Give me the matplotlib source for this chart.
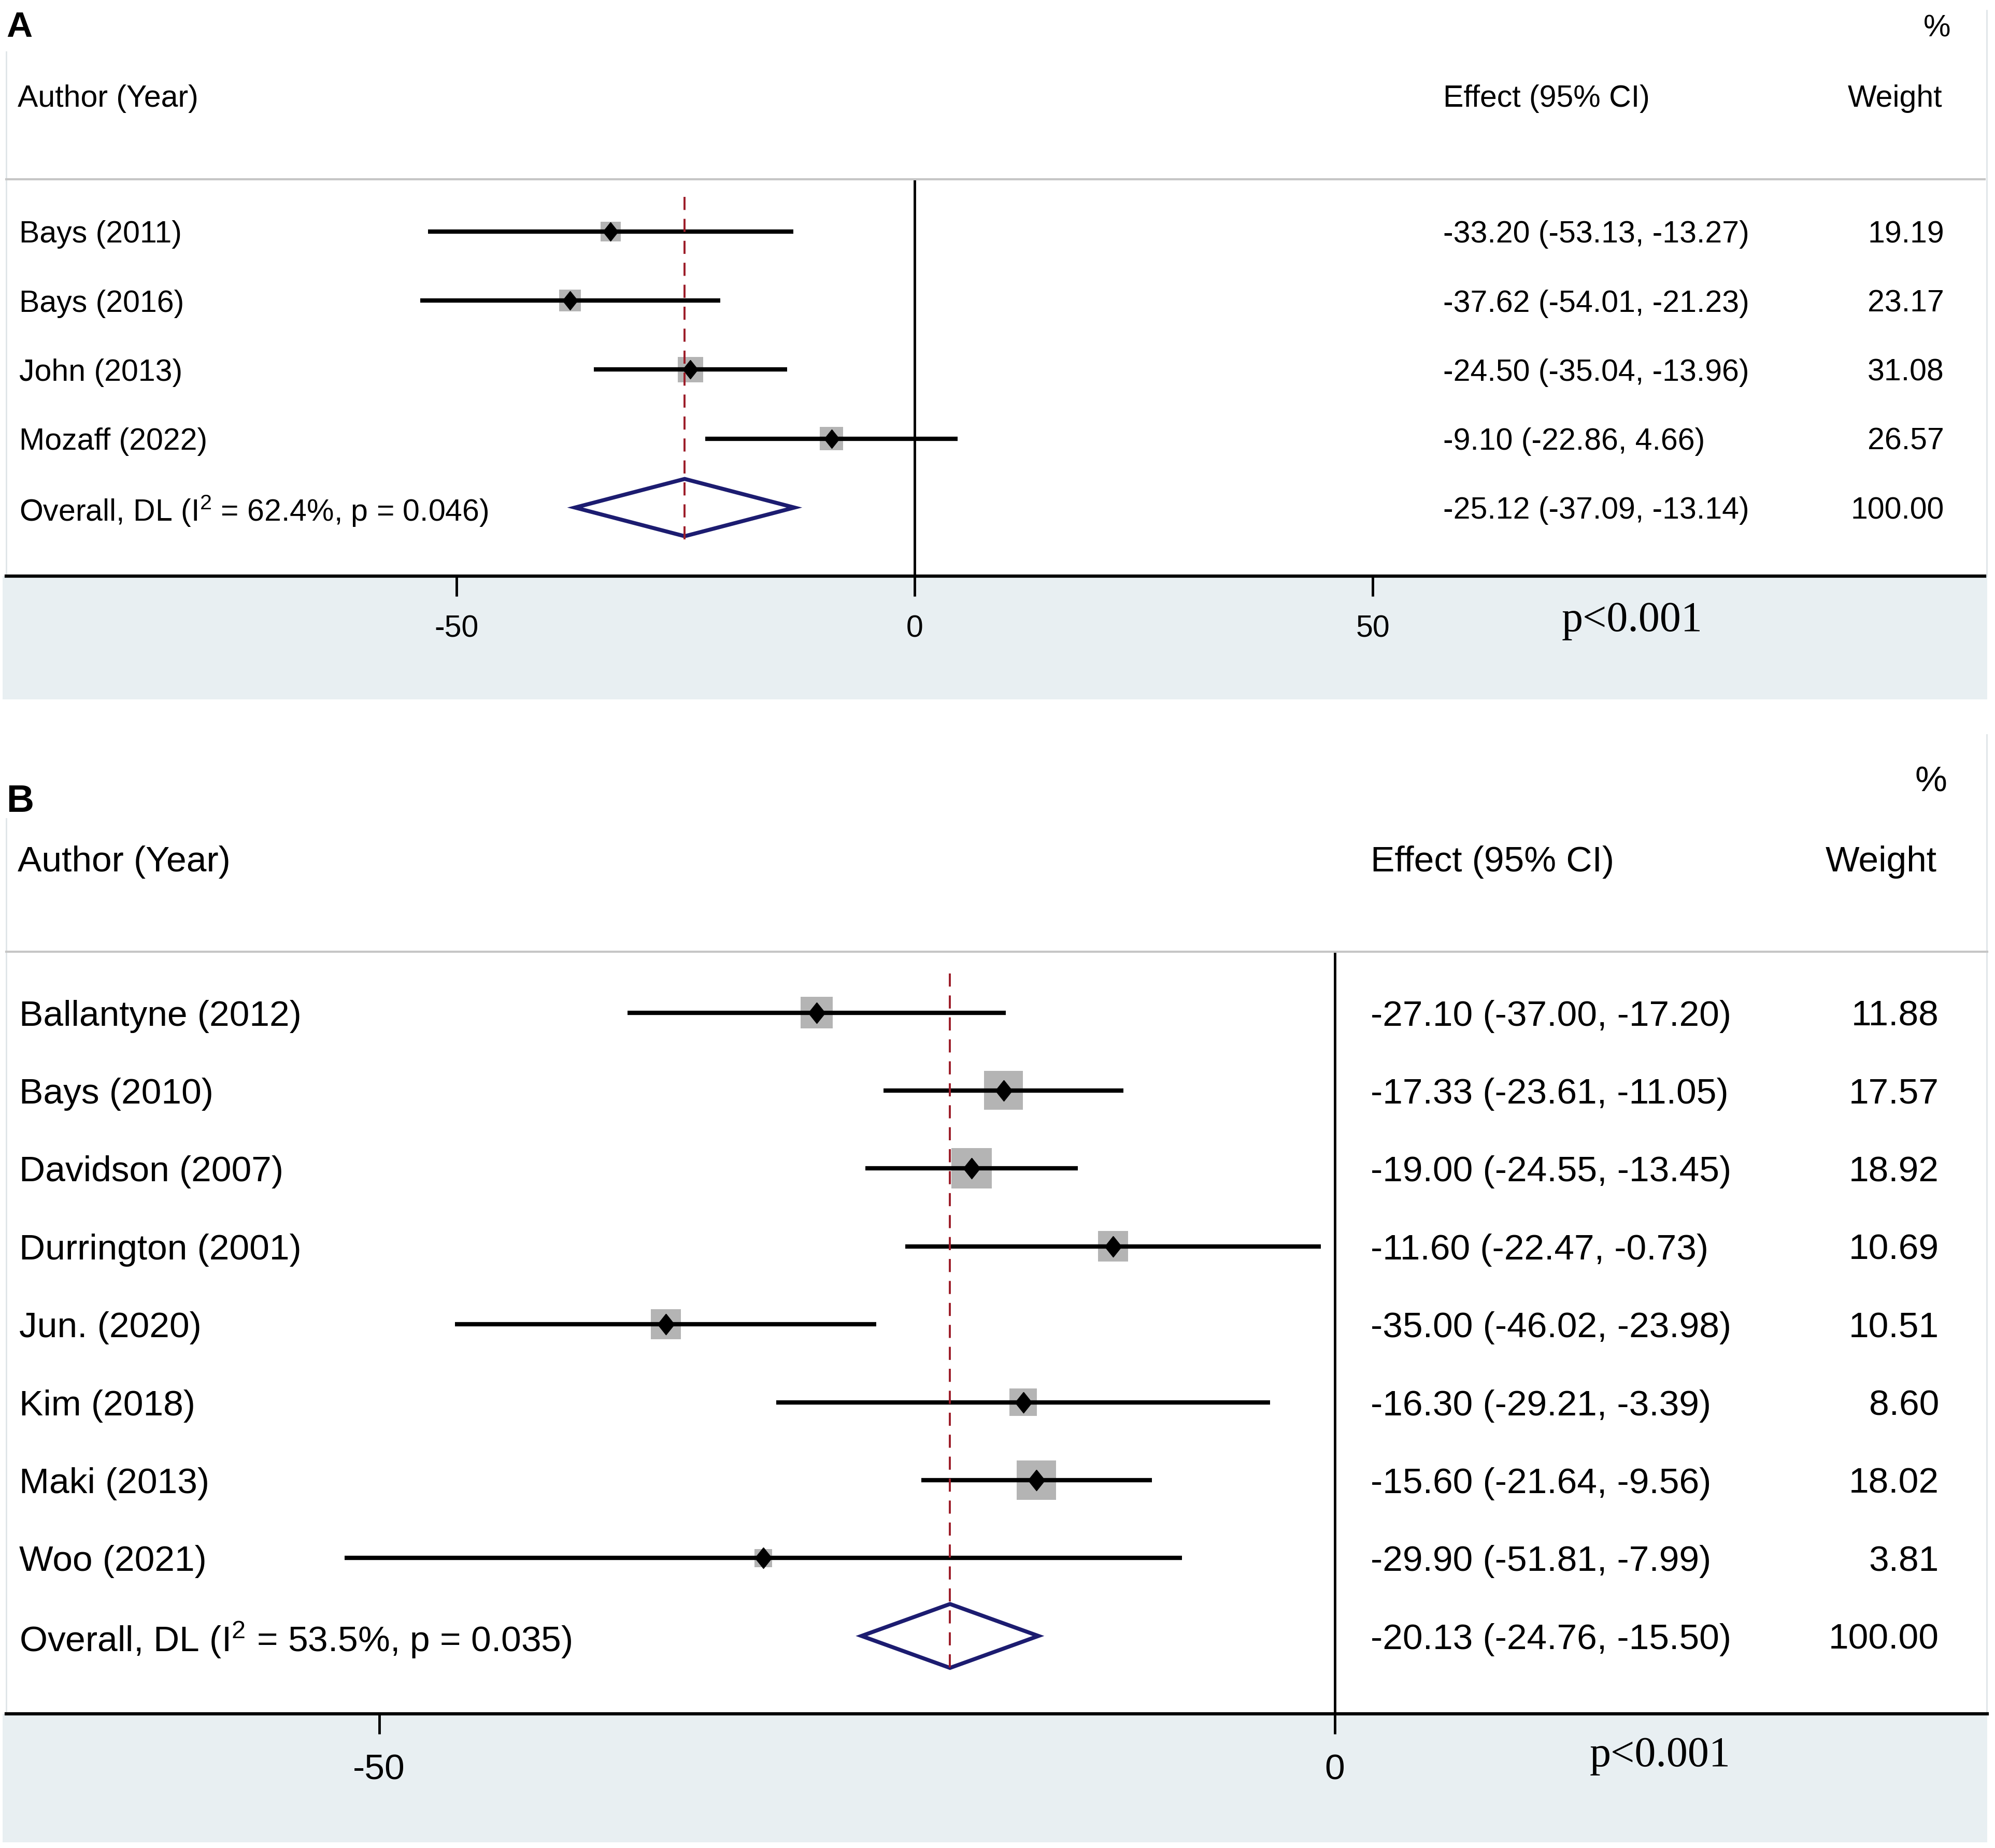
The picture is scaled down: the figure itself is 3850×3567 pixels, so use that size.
import numpy as np
import matplotlib
matplotlib.use("Agg")
import matplotlib.pyplot as plt
from matplotlib.patches import Rectangle, Polygon
from matplotlib.lines import Line2D
from matplotlib.transforms import blended_transform_factory

# ---- panel A data ----
a_studies = ["Bays (2011)", "Bays (2016)", "John (2013)", "Mozaff (2022)"]
a_es = [-33.20, -37.62, -24.50, -9.10]
a_lo = [-53.13, -54.01, -35.04, -22.86]
a_hi = [-13.27, -21.23, -13.96, 4.66]
a_wt = [19.19, 23.17, 31.08, 26.57]
a_overall = [-25.12, -37.09, -13.14]
a_i2, a_phet = 62.4, 0.046
a_ticks = [-50, 0, 50]

# ---- panel B data ----
b_studies = ["Ballantyne (2012)", "Bays (2010)", "Davidson (2007)", "Durrington (2001)",
             "Jun. (2020)", "Kim (2018)", "Maki (2013)", "Woo (2021)"]
b_es = [-27.10, -17.33, -19.00, -11.60, -35.00, -16.30, -15.60, -29.90]
b_lo = [-37.00, -23.61, -24.55, -22.47, -46.02, -29.21, -21.64, -51.81]
b_hi = [-17.20, -11.05, -13.45, -0.73, -23.98, -3.39, -9.56, -7.99]
b_wt = [11.88, 17.57, 18.92, 10.69, 10.51, 8.60, 18.02, 3.81]
b_overall = [-20.13, -24.76, -15.50]
b_i2, b_phet = 53.5, 0.035
b_ticks = [-50, 0]

p_text = "p<0.001"

W, H = 3850, 3567
plt.rcParams['font.family'] = ['Liberation Sans', 'DejaVu Sans']
plt.rcParams['mathtext.fontset'] = 'custom'
plt.rcParams['mathtext.rm'] = 'Liberation Sans'
plt.rcParams['mathtext.it'] = 'Liberation Sans:italic'
plt.rcParams['axes.unicode_minus'] = False

fig = plt.figure(figsize=(W / 100, H / 100), dpi=100)
fig.patch.set_facecolor('white')


def fx(px):
    return px / W


def fy(py):
    return 1 - py / H


# diamond shaped point marker (a bit taller than wide)
pt_marker = [(0, 1), (0.8, 0), (0, -1), (-0.8, 0), (0, 1)]


def draw_panel(letter, studies, es, lo, hi, wt, overall, i2, phet, ticks, g):
    n = len(studies) + 1
    rows = np.arange(n)
    ax = fig.add_axes([fx(g['ax_l']), fy(g['ax_b']),
                       (g['ax_r'] - g['ax_l']) / W, (g['ax_b'] - g['ax_t']) / H])
    ax.set_xlim((g['ax_l'] - g['zero']) / g['unit'], (g['ax_r'] - g['zero']) / g['unit'])
    ax.set_ylim((g['ax_b'] - g['row0']) / g['step'], (g['ax_t'] - g['row0']) / g['step'])
    ax.patch.set_visible(False)

    for s in ['left', 'right']:
        ax.spines[s].set_visible(False)
    ax.spines['top'].set_color('#c6c6c6')
    ax.spines['top'].set_linewidth(3)
    ax.spines['bottom'].set_color('black')
    ax.spines['bottom'].set_linewidth(4.5)
    ax.set_yticks([])
    ax.set_xticks(ticks)
    ax.set_xticklabels([str(t) for t in ticks])
    ax.tick_params(axis='x', direction='out', length=28, width=3.5,
                   pad=g['pad'], labelsize=g['fs'], colors='black')

    ax.axvline(0, color='black', lw=3.5, zorder=1)

    # study rows
    ax.hlines(rows[:-1], lo, hi, color='black', lw=6, zorder=3)
    side_pt = g['box_k'] * np.sqrt(np.array(wt)) * 0.72
    ax.scatter(es, rows[:-1], marker='s', s=side_pt ** 2, color='#b4b4b4',
               linewidths=0, zorder=2)
    ax.plot(es, rows[:-1], ls='none', marker=pt_marker, ms=g['mk'],
            color='black', zorder=4)

    # overall diamond
    ov_es, ov_lo, ov_hi = overall
    yo = rows[-1]
    h = g['dh']
    ax.add_patch(Polygon([(ov_lo, yo), (ov_es, yo - h), (ov_hi, yo), (ov_es, yo + h)],
                         closed=True, facecolor='none', edgecolor='#1c1c70',
                         lw=5.5, zorder=3))
    ax.plot([ov_es, ov_es], [rows[0] - 0.5, rows[-1] + 0.5], color='#9c1c28',
            lw=2.8, dashes=(6.5, 4.4), zorder=5)

    # texts
    tr = blended_transform_factory(fig.transFigure, ax.transData)
    labels = list(studies) + [f"Overall, DL (I$^{{2}}$ = {i2:.1f}%, p = {phet:.3f})"]
    effs = [f"{e:.2f} ({l:.2f}, {u:.2f})" for e, l, u in zip(es, lo, hi)]
    effs.append(f"{ov_es:.2f} ({ov_lo:.2f}, {ov_hi:.2f})")
    wts = [f"{w:.2f}" for w in wt] + [f"{100:.2f}"]
    for yi, lab, ef, wv in zip(rows, labels, effs, wts):
        ax.text(fx(g['lab_x']), yi, lab, transform=tr, ha='left', va='center_baseline',
                fontsize=g['fs'])
        ax.text(fx(g['eff_x']), yi, ef, transform=tr, ha='left', va='center_baseline',
                fontsize=g['fs'])
        ax.text(fx(g['wt_x']), yi, wv, transform=tr, ha='right', va='center_baseline',
                fontsize=g['fs'])

    fig.text(fx(12), fy(g['let_base']), letter, fontsize=g['let_fs'],
             fontweight='bold', ha='left', va='baseline')
    fig.text(fx(g['pct_x']), fy(g['pct_y']), "%", ha='right', va='center_baseline',
             fontsize=g['fs'])
    fig.text(fx(g['lab_x'] - 3), fy(g['head_y']), "Author (Year)", ha='left',
             va='center_baseline', fontsize=g['fs'])
    fig.text(fx(g['eff_x']), fy(g['head_y']), "Effect (95% CI)", ha='left',
             va='center_baseline', fontsize=g['fs'])
    fig.text(fx(g['wt_x'] - 4), fy(g['head_y']), "Weight", ha='right',
             va='center_baseline', fontsize=g['fs'])
    fig.text(fx(g['p_x']), fy(g['p_y']), p_text, ha='center', va='center',
             fontsize=59, family=['Liberation Serif', 'DejaVu Serif'])

    # shaded band under the axis and faint panel borders
    fig.add_artist(Rectangle((fx(5), fy(g['band_b'])), (3835 - 5) / W,
                             (g['band_b'] - g['ax_b']) / H, transform=fig.transFigure,
                             facecolor='#e8eff2', edgecolor='none', zorder=-1))
    fig.add_artist(Line2D([fx(12), fx(12)], [fy(g['bl_top']), fy(g['ax_b'])],
                          transform=fig.transFigure, color='#dfe5e8', lw=2, zorder=-1))
    fig.add_artist(Line2D([fx(3834), fx(3834)], [fy(g['br_top']), fy(g['ax_b'])],
                          transform=fig.transFigure, color='#dfe5e8', lw=2, zorder=-1))
    return ax


geo_a = dict(ax_l=12, ax_r=3830, ax_t=346, ax_b=1112, zero=1765.4, unit=17.68,
             row0=446.9, step=133.2, fs=42.5, pad=26, box_k=8.8, mk=26, dh=0.415,
             band_b=1350, let_base=71, let_fs=50, pct_x=3764, pct_y=49, head_y=184,
             lab_x=37, eff_x=2785, wt_x=3752, p_x=3150, p_y=1198, bl_top=100, br_top=20)
geo_b = dict(ax_l=12, ax_r=3835, ax_t=1837, ax_b=3308, zero=2575.7, unit=36.88,
             row0=1954.5, step=150.4, fs=50, pad=27, box_k=17.9, mk=29, dh=0.41,
             band_b=3556, let_base=1567, let_fs=53, pct_x=3757, pct_y=1503, head_y=1657,
             lab_x=37, eff_x=2645, wt_x=3742, p_x=3204, p_y=3389, bl_top=1580, br_top=1418)

draw_panel("A", a_studies, a_es, a_lo, a_hi, a_wt, a_overall, a_i2, a_phet, a_ticks, geo_a)
draw_panel("B", b_studies, b_es, b_lo, b_hi, b_wt, b_overall, b_i2, b_phet, b_ticks, geo_b)

fig.savefig("out.png", dpi=100, facecolor='white')
